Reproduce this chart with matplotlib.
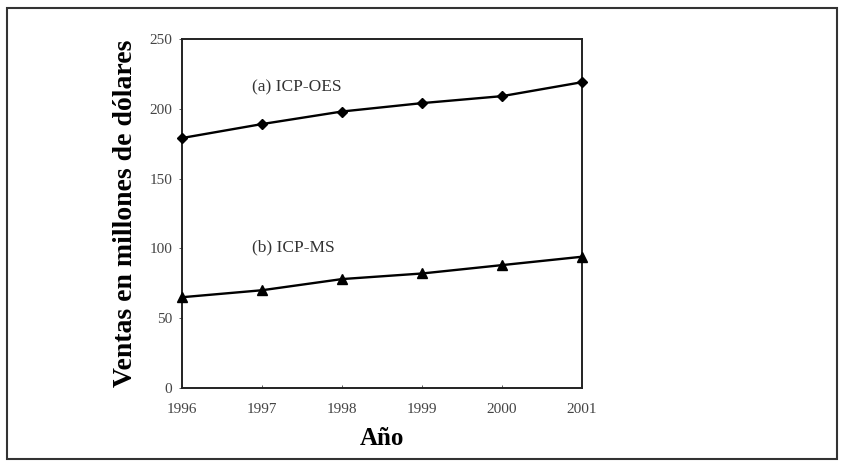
import matplotlib
matplotlib.use("Agg")
import matplotlib.pyplot as plt
from matplotlib.patches import Rectangle

years = [1996, 1997, 1998, 1999, 2000, 2001]
icp_oes = [179, 189, 198, 204, 209, 219]
icp_ms = [65, 70, 78, 82, 88, 94]
yticks = [0, 50, 100, 150, 200, 250]

plt.rcParams['font.family'] = ['Liberation Serif', 'DejaVu Serif']

fig = plt.figure(figsize=(8.44, 4.63), dpi=100)
ax = fig.add_axes([0.2156, 0.162, 0.474, 0.754])

ax.plot(years, icp_oes, color='black', lw=1.7, marker='D', ms=5.5, clip_on=False, zorder=3)
ax.plot(years, icp_ms, color='black', lw=1.7, marker='^', ms=7.5, clip_on=False, zorder=3)

ax.set_xlim(1996, 2001)
ax.set_ylim(0, 250)
ax.set_xticks(years)
ax.set_yticks(yticks)
ax.tick_params(axis='both', labelsize=11, colors='#444444', length=2, width=0.6)
ax.tick_params(axis='y', direction='out', pad=5)
ax.tick_params(axis='x', direction='in', pad=11)
for s in ax.spines.values():
    s.set_linewidth(1.4)
    s.set_color('#222222')

ax.text(1996.88, 215, '(a) ICP-OES', fontsize=12.5, color='#333333', va='center')
ax.text(1996.88, 101, '(b) ICP-MS', fontsize=12.5, color='#333333', va='center')

ax.set_ylabel('Ventas en millones de dólares', fontsize=20, fontweight='bold', labelpad=8)
ax.set_xlabel('Año', fontsize=18, fontweight='bold', labelpad=8)

fig.patches.append(Rectangle((0.008, 0.008), 0.984, 0.975, transform=fig.transFigure,
                             fill=False, edgecolor='#333333', lw=1.5))

fig.savefig('out.png', dpi=100)
